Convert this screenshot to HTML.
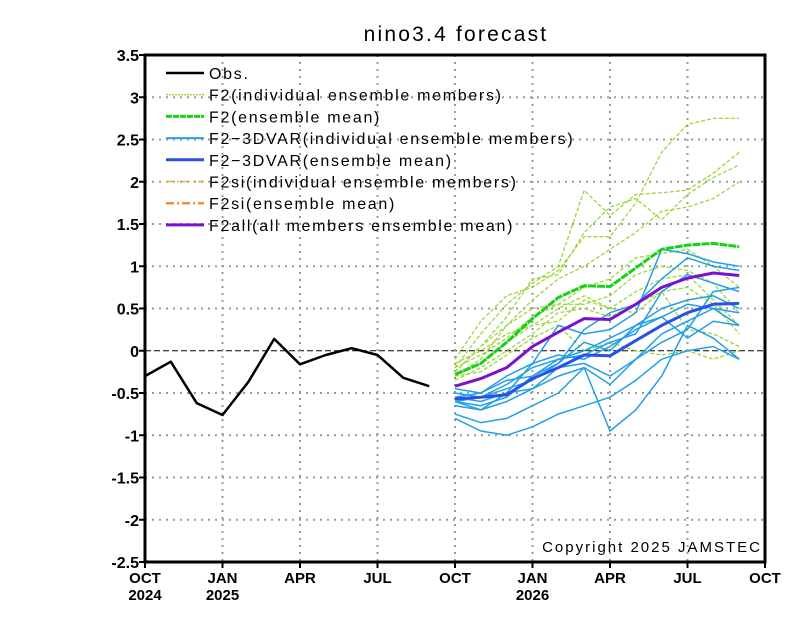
<!DOCTYPE html>
<html><head><meta charset="utf-8"><style>
body{margin:0;background:#fff;}
svg text{font-family:"Liberation Sans",sans-serif;}
</style></head><body>
<svg id="c" width="800" height="618" xmlns="http://www.w3.org/2000/svg">
<text x="456" y="41" font-size="21" text-anchor="middle" letter-spacing="2.2">nino3.4  forecast</text>
<g id="grid"></g><g id="series"></g><g id="axes"></g><g id="legend"></g>
<rect x="145" y="55" width="620" height="507" fill="none" stroke="#000" stroke-width="3"/>
<text x="762" y="552" font-size="15" text-anchor="end" letter-spacing="2">Copyright 2025 JAMSTEC</text>
</svg>
<script>
const yTicks=[3.5,3,2.5,2,1.5,1,0.5,0,-0.5,-1,-1.5,-2,-2.5];
const xTickLabels=["OCT","JAN","APR","JUL","OCT","JAN","APR","JUL","OCT"];
const xYearLabels=["2024","2025","","","","2026","","",""];
const obs=[-0.3,-0.13,-0.62,-0.76,-0.37,0.14,-0.16,-0.05,0.03,-0.05,-0.32,-0.42];
const f2Mean=[-0.28,-0.15,0.1,0.38,0.63,0.77,0.76,0.98,1.2,1.25,1.27,1.23];
const f2allMean=[-0.42,-0.33,-0.2,0.05,0.22,0.38,0.37,0.55,0.75,0.86,0.92,0.89];
const f3dMean=[-0.57,-0.55,-0.52,-0.33,-0.2,-0.05,-0.06,0.12,0.3,0.45,0.55,0.56];
const f2Members=[
[-0.1,0.35,0.65,0.75,0.95,1.35,1.35,1.75,2.35,2.68,2.75,2.75],
[-0.2,0.2,0.55,0.8,1.0,1.9,1.6,1.85,1.87,1.9,2.1,2.35],
[-0.25,0.05,0.4,0.85,0.9,1.4,1.7,1.8,1.55,1.85,2.05,2.2],
[-0.3,-0.1,0.3,0.6,0.85,1.0,1.2,1.4,1.65,1.7,1.8,2.0],
[-0.25,0.05,0.3,0.5,0.55,0.75,0.85,1.1,1.15,1.2,1.0,0.75],
[-0.2,-0.05,0.15,0.4,0.55,0.55,0.65,0.9,1.0,0.95,0.8,0.45],
[-0.3,-0.15,0.1,0.3,0.5,0.65,0.5,0.7,0.85,0.9,0.6,0.3],
[-0.35,-0.2,0.0,0.2,0.45,0.5,0.4,0.55,0.7,0.75,0.55,0.2],
[-0.3,-0.25,-0.05,0.15,0.3,0.0,0.1,0.0,-0.05,0.0,-0.1,0.0],
[-0.15,0.0,0.2,0.3,0.35,0.6,0.5,0.45,0.7,0.25,0.2,0.05]];
const f3dMembers=[
[-0.55,-0.6,-0.5,-0.15,0.3,0.2,0.25,0.45,1.2,1.15,1.05,1.0],
[-0.6,-0.55,-0.45,-0.35,-0.15,0.25,0.45,0.55,0.85,1.1,1.0,0.95],
[-0.5,-0.55,-0.4,-0.2,-0.1,-0.05,0.1,0.2,0.7,0.9,0.8,0.7],
[-0.6,-0.65,-0.55,-0.3,-0.15,0.1,0.0,0.3,0.5,0.6,0.65,0.5],
[-0.65,-0.7,-0.6,-0.45,-0.3,-0.2,-0.95,-0.7,-0.3,0.3,0.15,-0.1],
[-0.75,-0.85,-0.8,-0.65,-0.5,-0.2,-0.4,-0.1,0.2,0.35,0.5,0.3],
[-0.8,-0.95,-1.0,-0.9,-0.75,-0.65,-0.55,-0.35,-0.1,0.0,0.05,-0.1],
[-0.55,-0.5,-0.3,-0.15,-0.05,-0.1,0.05,0.25,0.4,0.55,0.5,0.45],
[-0.6,-0.7,-0.5,-0.45,-0.2,-0.15,-0.3,-0.1,0.1,0.25,0.7,0.75],
[-0.45,-0.5,-0.35,-0.3,-0.1,0.0,0.15,0.3,0.4,0.15,0.35,0.3]];
const legendLabels=["Obs.","F2(individual ensemble members)","F2(ensemble mean)","F2\u22123DVAR(individual ensemble members)","F2\u22123DVAR(ensemble mean)","F2si(individual ensemble members)","F2si(ensemble mean)","F2all(all members ensemble mean)"];

const NS="http://www.w3.org/2000/svg";
const X0=145,X1=765,Y0=55,Y1=562,VMIN=-2.5,VMAX=3.5;
const xm=m=>X0+(X1-X0)*m/24;
const yv=v=>Y1-(v-VMIN)/(VMAX-VMIN)*(Y1-Y0);
function mk(tag,attrs,parent){const e=document.createElementNS(NS,tag);for(const k in attrs)e.setAttribute(k,attrs[k]);parent.appendChild(e);return e;}
const grid=document.getElementById('grid'),ser=document.getElementById('series'),ax=document.getElementById('axes'),lg=document.getElementById('legend');
yTicks.forEach(t=>{
 if(t!==VMAX&&t!==VMIN&&t!==0){const l=mk('line',{x1:X0,x2:X1,y1:yv(t),y2:yv(t),stroke:'#999','stroke-width':2,'stroke-dasharray':'2,5'},grid);
 
 }
 const tk=mk('line',{x1:X0-6,x2:X0,y1:yv(t),y2:yv(t),stroke:'#000','stroke-width':2},ax);
 
 
 const tx=mk('text',{x:X0-6,y:yv(t)+6,'font-size':16,'font-weight':'bold','text-anchor':'end'},ax);
 tx.textContent=String(t);
 
 
});
const z=mk('line',{x1:X0,x2:X1,y1:yv(0),y2:yv(0),stroke:'#000','stroke-width':1,'stroke-dasharray':'6,3'},grid);


xTickLabels.forEach((lab,i)=>{
 const x=xm(i*3);
 if(i>0&&i<8){const g=mk('line',{x1:x,x2:x,y1:Y0,y2:Y1,stroke:'#999','stroke-width':2,'stroke-dasharray':'2,5'},grid);
 
 }
 const tk=mk('line',{x1:x,x2:x,y1:Y1,y2:Y1+6,stroke:'#000','stroke-width':2},ax);
 
 
 const t=mk('text',{x:x,y:583,'font-size':15,'font-weight':'bold','text-anchor':'middle'},ax);
 t.textContent=lab;
 
 
 if(xYearLabels[i]){const y=mk('text',{x:x,y:600,'font-size':15,'font-weight':'bold','text-anchor':'middle'},ax);
 y.textContent=xYearLabels[i];
 
 }
});
function line(vals,start,style,name){
 const p=vals.map((v,i)=>xm(start+i).toFixed(1)+','+yv(v).toFixed(1)).join(' ');
 const e=mk('polyline',Object.assign({points:p,fill:'none','stroke-linejoin':'round'},style),ser);
 
 
}
f2Members.forEach(m=>line(m,12,{stroke:'#9ad83c','stroke-width':1.3,'stroke-dasharray':'4,2'},'f2-member-line'));
f3dMembers.forEach(m=>line(m,12,{stroke:'#22a0e6','stroke-width':1.5},'f2-3dvar-member-line'));
line(f2Mean,12,{stroke:'#18d018','stroke-width':3,'stroke-dasharray':'8,1'},'f2-mean-line');
line(f3dMean,12,{stroke:'#2a50e8','stroke-width':3},'f2-3dvar-mean-line');
line(f2allMean,12,{stroke:'#7a10d0','stroke-width':3},'f2all-mean-line');
line(obs,0,{stroke:'#000','stroke-width':2.5},'obs-line');
const lstyles=[{stroke:'#000','stroke-width':2.5},{stroke:'#9ad83c','stroke-width':1.3,'stroke-dasharray':'2,1'},{stroke:'#18d018','stroke-width':3,'stroke-dasharray':'6,1'},{stroke:'#22a0e6','stroke-width':2},{stroke:'#2a50e8','stroke-width':3},{stroke:'#e0b050','stroke-width':1.5,'stroke-dasharray':'8,3,2,3'},{stroke:'#f09040','stroke-width':2.5,'stroke-dasharray':'8,3,2,3'},{stroke:'#7a10d0','stroke-width':3}];
legendLabels.forEach((lab,i)=>{
 const y=73+i*21.7;
 const l=mk('line',Object.assign({x1:166,x2:204,y1:y,y2:y},lstyles[i]),lg);
 
 
 const t=mk('text',{x:209,y:y+6,'font-size':16,'letter-spacing':'1.7'},lg);
 t.textContent=lab;
 
 
});
</script>
</body></html>
